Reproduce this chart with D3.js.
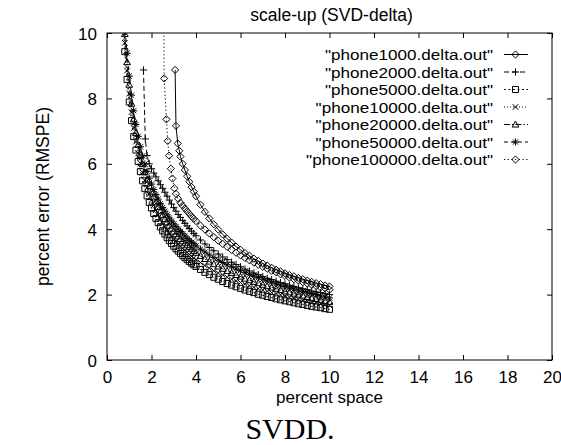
<!DOCTYPE html>
<html><head><meta charset="utf-8">
<script src="https://cdn.jsdelivr.net/npm/d3@7"></script>
<style>
body{margin:0;background:#fff}
svg text{font-family:"Liberation Sans",Arial,Helvetica,sans-serif;fill:#000}
</style>
</head><body>
<svg id="chart" width="561" height="445"></svg>
<script>
// ---------------- data ----------------
const chartTitle = "scale-up (SVD-delta)";
const xAxisLabel = "percent space";
const yAxisLabel = "percent error (RMSPE)";
const captionText = "SVDD.";
const xTickValues = [0,2,4,6,8,10,12,14,16,18,20];
const yTickValues = [0,2,4,6,8,10];
const seriesNames = ['"phone1000.delta.out"','"phone2000.delta.out"','"phone5000.delta.out"','"phone10000.delta.out"','"phone20000.delta.out"','"phone50000.delta.out"','"phone100000.delta.out"'];

const tailSpace = [4.2,4.4,4.6,4.8,5.0,5.2,5.4,5.6,5.8,6.0,6.2,6.4,6.6,6.8,7.0,7.2,7.4,7.6,7.8,8.0,8.2,8.4,8.6,8.8,9.0,9.2,9.4,9.6,9.8,10.0];
const percentSpaceBundle = [0.7,0.8,0.9,1.0,1.1,1.2,1.3,1.4,1.5,1.6,1.7,1.8,1.9,2.0,2.1,2.2,2.3,2.4,2.5,2.6,2.7,2.8,2.9,3.0,3.1,3.2,3.3,3.4,3.5,3.6,3.7,3.8,3.9,4.0, ...tailSpace];
const percentSpace1000 = [3.06,3.10,3.18,3.25,3.3,3.4,3.5,3.6,3.7,3.8,3.9,4.0, ...tailSpace];
const percentSpace2000 = [1.64,1.72,1.8,1.9,2.0,2.1,2.2,2.3,2.4,2.5,2.6,2.7,2.8,2.9,3.0,3.1,3.2,3.3,3.4,3.5,3.6,3.7,3.8,3.9,4.0, ...tailSpace];
const percentSpace100000 = [2.55,2.57,2.67,2.73,2.79,2.87,2.94,3.03,3.1,3.2,3.3,3.4,3.5,3.6,3.7,3.8,3.9,4.0, ...tailSpace];

const rmspe1000 = [8.87,7.16,6.62,6.40,6.22,6.00,5.81,5.62,5.45,5.29,5.15,5.01,
  4.75,4.53,4.33,4.15,3.99,3.84,3.71,3.59,3.47,3.37,3.27,3.19,3.10,3.03,2.95,2.89,2.82,2.76,2.71,2.65,2.60,2.56,2.51,2.47,2.43,2.39,2.35,2.32,2.28,2.25];
const rmspe2000 = [8.87,6.76,6.25,6.00,5.85,5.72,5.60,5.48,5.36,5.25,5.13,5.01,4.89,4.77,4.66,4.55,4.45,4.36,4.27,4.18,4.10,4.02,3.94,3.87,3.80,
  3.67,3.55,3.44,3.34,3.24,3.15,3.07,2.99,2.92,2.85,2.78,2.72,2.66,2.61,2.55,2.50,2.46,2.41,2.37,2.33,2.29,2.25,2.21,2.18,2.15,2.11,2.08,2.06,2.03,2.00];
const rmspe5000 = [10.52,9.43,8.58,7.89,7.32,6.83,6.42,6.07,5.76,5.48,5.24,5.02,4.82,4.65,4.48,4.33,4.20,4.07,3.95,3.85,3.74,3.65,3.56,3.48,3.40,3.33,3.26,3.19,3.13,3.07,3.01,2.96,2.91,2.86,
  2.77,2.68,2.61,2.53,2.47,2.40,2.34,2.29,2.24,2.19,2.14,2.10,2.06,2.01,1.98,1.94,1.91,1.87,1.84,1.81,1.78,1.75,1.72,1.70,1.67,1.64,1.62,1.60,1.57,1.55];
const rmspe10000 = [10.79,9.70,8.85,8.15,7.58,7.09,6.68,6.32,6.01,5.73,5.49,5.27,5.07,4.89,4.73,4.58,4.44,4.31,4.19,4.08,3.98,3.88,3.79,3.71,3.63,3.55,3.48,3.41,3.35,3.29,3.23,3.17,3.12,3.07,
  2.98,2.89,2.81,2.73,2.66,2.60,2.53,2.47,2.42,2.37,2.32,2.27,2.22,2.18,2.14,2.10,2.06,2.03,1.99,1.96,1.92,1.89,1.86,1.83,1.80,1.77,1.75,1.72,1.69,1.67];
const rmspe20000 = [11.06,9.97,9.11,8.42,7.84,7.36,6.94,6.58,6.27,5.99,5.74,5.52,5.32,5.13,4.97,4.82,4.68,4.55,4.43,4.31,4.21,4.11,4.02,3.93,3.85,3.78,3.70,3.63,3.57,3.51,3.45,3.39,3.33,3.28,
  3.18,3.09,3.01,2.93,2.86,2.79,2.72,2.66,2.60,2.55,2.49,2.44,2.39,2.35,2.30,2.26,2.22,2.18,2.14,2.10,2.07,2.03,2.00,1.97,1.93,1.90,1.87,1.84,1.81,1.78];
const rmspe50000 = [11.34,10.24,9.38,8.68,8.10,7.62,7.20,6.84,6.52,6.24,5.99,5.77,5.56,5.38,5.21,5.06,4.92,4.78,4.66,4.55,4.44,4.34,4.25,4.16,4.08,4.00,3.93,3.86,3.79,3.72,3.66,3.60,3.55,3.49,
  3.39,3.30,3.21,3.13,3.05,2.98,2.91,2.85,2.78,2.73,2.67,2.62,2.56,2.52,2.47,2.42,2.38,2.33,2.29,2.25,2.21,2.17,2.14,2.10,2.07,2.03,2.00,1.96,1.93,1.90];
const rmspe100000 = [10.60,8.61,7.36,6.70,6.25,5.85,5.55,5.25,5.08,4.93,4.81,4.72,4.63,4.55,4.47,4.39,4.32,4.25,
  4.11,3.99,3.87,3.76,3.65,3.55,3.46,3.37,3.28,3.20,3.12,3.05,2.98,2.91,2.85,2.79,2.73,2.68,2.62,2.57,2.52,2.47,2.43,2.38,2.34,2.30,2.26,2.22,2.19,2.15];

const seriesX = [percentSpace1000, percentSpace2000, percentSpaceBundle, percentSpaceBundle, percentSpaceBundle, percentSpaceBundle, percentSpace100000];
const seriesY = [rmspe1000, rmspe2000, rmspe5000, rmspe10000, rmspe20000, rmspe50000, rmspe100000];

// ---------------- styles ----------------
const markerTypes = ["diamond","plus","square","cross","triangle","star","diamond"];
const dashPatterns = [null,"5,3","2,2.5","1,2","6,2,1.5,2","4,3","1.2,2.5"];

// ---------------- drawing ----------------
const svg = d3.select("#chart");
svg.append("rect").attr("width",561).attr("height",445).attr("fill","#fff");

const plotL = 107, plotR = 552, plotT = 33, plotB = 360;
const x = d3.scaleLinear().domain([0,20]).range([plotL, plotR]);
const y = d3.scaleLinear().domain([0,10]).range([plotB, plotT]);
const FS = 17.5, TFS = 17, LFS = 15.4;

// axes (ticks inward, mirrored)
const gx = svg.append("g").attr("transform",`translate(0,${plotB})`)
  .call(d3.axisBottom(x).tickValues(xTickValues).tickSize(-5).tickSizeOuter(0).tickPadding(11).tickFormat(d3.format("d")));
const gxt = svg.append("g").attr("transform",`translate(0,${plotT})`)
  .call(d3.axisTop(x).tickValues(xTickValues).tickSize(-5).tickSizeOuter(0).tickFormat(""));
const gy = svg.append("g").attr("transform",`translate(${plotL},0)`)
  .call(d3.axisLeft(y).tickValues(yTickValues).tickSize(-5).tickSizeOuter(0).tickPadding(10).tickFormat(d3.format("d")));
const gyr = svg.append("g").attr("transform",`translate(${plotR},0)`)
  .call(d3.axisRight(y).tickValues(yTickValues).tickSize(-5).tickSizeOuter(0).tickFormat(""));
[gx,gxt,gy,gyr].forEach(g=>{
  g.select(".domain").remove();
  g.selectAll(".tick line").attr("stroke","#000").attr("stroke-width",1);
  g.selectAll("text").attr("font-size",TFS).attr("font-family","Liberation Sans, Arial, sans-serif").attr("fill","#000");
});
gy.selectAll("text").attr("dy","0.36em");

svg.append("rect").attr("x",plotL).attr("y",plotT).attr("width",plotR-plotL).attr("height",plotB-plotT)
  .attr("fill","none").attr("stroke","#000").attr("stroke-width",1);

// labels
svg.append("text").attr("x",(plotL+plotR)/2+2).attr("y",21).attr("text-anchor","middle").attr("font-size",FS).text(chartTitle);
svg.append("text").attr("x",(plotL+plotR)/2).attr("y",403).attr("text-anchor","middle").attr("font-size",TFS).text(xAxisLabel);
svg.append("text").attr("transform",`translate(49,${(plotT+plotB)/2}) rotate(-90)`).attr("text-anchor","middle").attr("font-size",FS).text(yAxisLabel);
svg.append("text").attr("x",290).attr("y",439).attr("text-anchor","middle").attr("font-size",30)
  .style("font-family","'Liberation Serif','DejaVu Serif',serif").text(captionText);

function markerPath(type){
  switch(type){
    case "diamond": { const s=3.6; return `M0,${-s}L${s},0L0,${s}L${-s},0Z`; }
    case "plus": { const s=3.6; return `M${-s},0H${s}M0,${-s}V${s}`; }
    case "square": { const s=3; return `M${-s},${-s}H${s}V${s}H${-s}Z`; }
    case "cross": { const s=2.8; return `M${-s},${-s}L${s},${s}M${-s},${s}L${s},${-s}`; }
    case "triangle": { const s=3.4; return `M0,${-s}L${s},${s*0.75}L${-s},${s*0.75}Z`; }
    case "star": { const s=3.6, k=2.6; return `M${-s},0H${s}M0,${-s}V${s}M${-k},${-k}L${k},${k}M${-k},${k}L${k},${-k}`; }
  }
}

svg.append("clipPath").attr("id","plotclip").append("rect")
  .attr("x",plotL).attr("y",plotT).attr("width",plotR-plotL).attr("height",plotB-plotT);
const plot = svg.append("g").attr("clip-path","url(#plotclip)");
const line = d3.line().x(d=>x(d[0])).y(d=>y(d[1]));

seriesNames.forEach((name,i)=>{
  const pts = d3.zip(seriesX[i], seriesY[i]);
  const g = plot.append("g");
  g.append("path").datum(pts).attr("d",line).attr("fill","none").attr("stroke","#000")
    .attr("stroke-width",1).attr("stroke-dasharray",dashPatterns[i]);
  g.selectAll("path.m").data(pts).join("path").attr("class","m")
    .attr("transform",d=>`translate(${x(d[0])},${y(d[1])})`)
    .attr("d",markerPath(markerTypes[i])).attr("fill","none").attr("stroke","#000").attr("stroke-width",1);
});

// legend (slightly condensed height, stretched width as in the PostScript original)
const legend = svg.append("g");
seriesNames.forEach((name,i)=>{
  const base = 60 + i*17.5, cy = base - 5.5;
  const t = legend.append("text").attr("x",493).attr("y",base).attr("text-anchor","end").attr("font-size",LFS).text(name);
  const w = t.node().getComputedTextLength();
  t.attr("textLength", w*1.11).attr("lengthAdjust","spacingAndGlyphs");
  legend.append("line").attr("x1",504).attr("x2",528).attr("y1",cy).attr("y2",cy)
    .attr("stroke","#000").attr("stroke-width",1).attr("stroke-dasharray",dashPatterns[i]);
  legend.append("path").attr("transform",`translate(515.5,${cy})`).attr("d",markerPath(markerTypes[i]))
    .attr("fill","none").attr("stroke","#000").attr("stroke-width",1);
});
</script>
</body></html>
